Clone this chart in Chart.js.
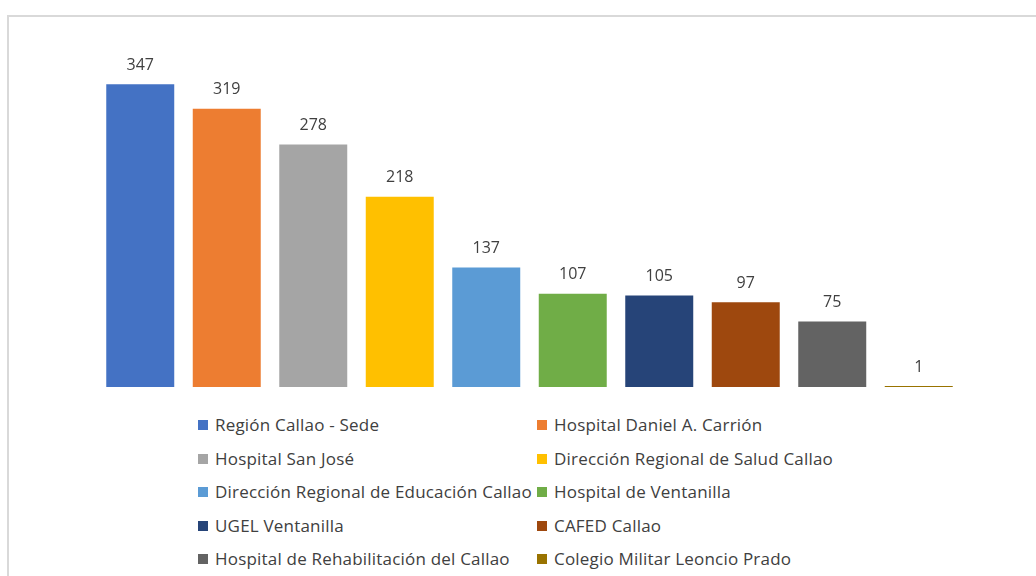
<!DOCTYPE html>
<html>
<head>
<meta charset="utf-8">
<script src="https://cdn.jsdelivr.net/npm/chart.js@4"></script>
<style>
html,body{margin:0;padding:0;background:#fff;overflow:hidden;}
body{width:1036px;height:576px;position:relative;font-family:"Open Sans",sans-serif;}
#marco{position:absolute;left:7px;top:15px;width:1100px;height:600px;border-left:2px solid #d9d9d9;border-top:2px solid #d9d9d9;}
#caja{position:absolute;left:0;top:0;width:1036px;height:400px;}
#leyenda{position:absolute;left:198px;top:414px;width:700px;}
.item{position:absolute;font-size:17px;letter-spacing:0.2px;color:#404040;white-space:nowrap;line-height:22px;}
.item span{display:inline-block;width:10px;height:10px;margin-right:7px;vertical-align:1px;}
</style>
</head>
<body>
<div id="marco"></div>
<div id="caja"><canvas id="grafico"></canvas></div>
<div id="leyenda"></div>
<script>

const categorias = [
"Región Callao - Sede",
"Hospital Daniel A. Carrión",
"Hospital San José",
"Dirección Regional de Salud Callao",
"Dirección Regional de Educación Callao",
"Hospital de Ventanilla",
"UGEL Ventanilla",
"CAFED Callao",
"Hospital de Rehabilitación del Callao",
"Colegio Militar Leoncio Prado"
];

const valores = [347,319,278,218,137,107,105,97,75,1];

const colores = [
"#4472C4","#ED7D31","#A5A5A5","#FFC000","#5B9BD5",
"#70AD47","#264478","#9E480E","#636363","#997300"
];


// etiquetas encima de cada barra
const etiquetas = {
id:"etiquetas",
afterDatasetsDraw(chart){
const ctx = chart.ctx;
ctx.save();
ctx.font = "16px 'Open Sans'";
ctx.fillStyle = "#404040";
ctx.textAlign = "center";
ctx.textBaseline = "middle";
chart.data.datasets.forEach((ds,i)=>{
const barra = chart.getDatasetMeta(i).data[i];
ctx.fillText(ds.data[i], barra.x, barra.y - 19);
});
ctx.restore();
}
};


new Chart(
document.getElementById("grafico"),
{
type:"bar",
data:{
labels:categorias,
datasets:categorias.map((c,i)=>({
label:c,
data:categorias.map((x,j)=> j===i ? valores[i] : null),
backgroundColor:colores[i],
borderColor:colores[i],
borderWidth:0,
minBarLength:1
}))
},
options:{
responsive:true,
maintainAspectRatio:false,
animation:false,
layout:{padding:{left:97,right:74,top:38,bottom:13}},
datasets:{bar:{grouped:false,categoryPercentage:1,barPercentage:0.786}},
scales:{
x:{display:false},
y:{display:false,min:0,max:400}
},
plugins:{
legend:{display:false},
tooltip:{enabled:false}
}
},
plugins:[etiquetas]
}
);


// leyenda en dos columnas
const leyenda = document.getElementById("leyenda");
categorias.forEach((c,i)=>{
const d = document.createElement("div");
d.className = "item";
d.style.left = (i%2===0 ? 0 : 339) + "px";
d.style.top = (Math.floor(i/2)*33.5) + "px";
d.innerHTML = '<span style="background:'+colores[i]+'"></span>' + c;
leyenda.appendChild(d);
});

</script>
</body>
</html>
